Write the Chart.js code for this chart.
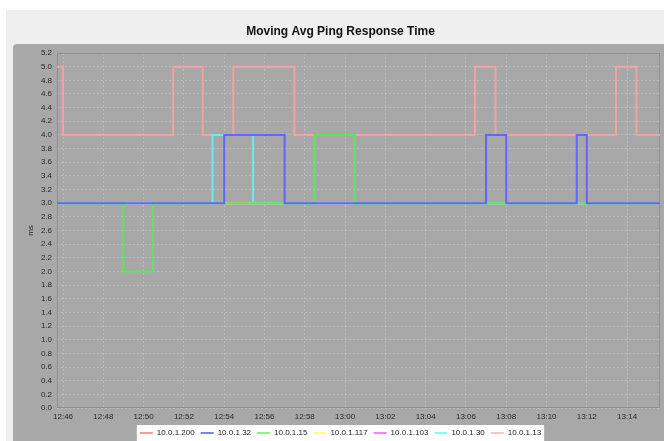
<!DOCTYPE html>
<html>
<head>
<meta charset="utf-8">
<script src="https://cdn.jsdelivr.net/npm/chart.js@4.4.1/dist/chart.umd.min.js"></script>
<style>
  html, body { margin: 0; padding: 0; background: #ffffff; }
  #wrap { width: 664px; height: 441px; }
</style>
</head>
<body>
<div id="wrap"><canvas id="ping" width="664" height="441"></canvas></div>
<script>
// ---- chart data ----
const chartTitle = "Moving Avg Ping Response Time";
const axisTitle = "ms";
const axisStart = "12:45:42";
const axisEnd = "13:15:38";
const timeTicks = ["12:46", "12:48", "12:50", "12:52", "12:54", "12:56", "12:58",
                   "13:00", "13:02", "13:04", "13:06", "13:08", "13:10", "13:12", "13:14"];
const hostNames = ["10.0.1.200", "10.0.1.32", "10.0.1.15", "10.0.1.117",
                   "10.0.1.103", "10.0.1.30", "10.0.1.13"];

// each entry: [time the value starts, moving average in ms]
const host200 = [["12:45:42", 5.0], ["12:46:00", 4.0], ["12:51:28", 5.0], ["12:52:56", 4.0],
                 ["12:54:27", 5.0], ["12:57:29", 4.0], ["13:06:27", 5.0], ["13:07:28", 4.0],
                 ["13:13:27", 5.0], ["13:14:28", 4.0], ["13:15:38", 4.0]];
const host32  = [["12:45:42", 3.0], ["12:54:00", 4.0], ["12:57:00", 3.0], ["13:07:00", 4.0],
                 ["13:08:00", 3.0], ["13:11:30", 4.0], ["13:12:00", 3.0], ["13:15:38", 3.0]];
const host15  = [["12:45:42", 3.0], ["12:49:00", 2.0], ["12:50:28", 3.0], ["12:58:30", 4.0],
                 ["13:00:29", 3.0], ["13:15:38", 3.0]];
const host117 = [["12:45:42", 3.0], ["13:15:38", 3.0]];
const host103 = [["12:45:42", 3.0], ["13:15:38", 3.0]];
const host30  = [["12:45:42", 3.0], ["12:53:25", 4.0], ["12:55:26", 3.0], ["13:15:38", 3.0]];
const host13  = [["12:45:42", 3.0], ["13:15:38", 3.0]];

// ---- helpers ----
const FONT = "'Liberation Sans', Arial, Helvetica, sans-serif";
const BASE_MIN = 12 * 60 + 46;
function toMin(t) {
  const [h, m, s] = t.split(":").map(Number);
  return h * 60 + m + (s || 0) / 60 - BASE_MIN;
}
function series(label, points, lineColor, keyColor, order) {
  return {
    label,
    data: points.map(([t, v]) => ({ x: toMin(t), y: v })),
    borderColor: lineColor,
    backgroundColor: keyColor,
    borderWidth: 2,
    stepped: "before",
    pointRadius: 0,
    pointHoverRadius: 0,
    fill: false,
    order
  };
}

const datasets = [
  series(hostNames[0], host200, "#f2a2a2", "#ff9a9a", 6),
  series(hostNames[1], host32,  "#6464ff", "#7d7dff", 0),
  series(hostNames[2], host15,  "#5fe45f", "#7dff7d", 1),
  series(hostNames[3], host117, "#f0f060", "#ffff7d", 3),
  series(hostNames[4], host103, "#f060f0", "#ff7dff", 4),
  series(hostNames[5], host30,  "#5ff0f0", "#7dffff", 2),
  series(hostNames[6], host13,  "#ffbcbc", "#ffc4c4", 5)
];

// page backdrop, plot panel and the white legend strip
const backdrop = {
  id: "backdrop",
  beforeDraw(chart) {
    const { ctx, width, height } = chart;
    ctx.save();
    ctx.fillStyle = "#ffffff";
    ctx.fillRect(0, 0, width, height);
    ctx.fillStyle = "#efefef";
    ctx.fillRect(6, 10, width - 6, height - 10);
    ctx.fillStyle = "#a8a8a8";
    ctx.beginPath();
    ctx.roundRect(13, 44, width - 13, height - 44, [4, 0, 0, 0]);
    ctx.fill();
    const boxes = chart.legend && chart.legend.legendHitBoxes;
    if (boxes && boxes.length) {
      const first = boxes[0], last = boxes[boxes.length - 1];
      const x0 = first.left - 3;
      const x1 = last.left + last.width + 3;
      const y0 = chart.legend.top + 2;
      ctx.fillStyle = "#ffffff";
      ctx.fillRect(x0, y0, x1 - x0, height - y0);
    }
    ctx.restore();
  },
  beforeDatasetsDraw(chart) {
    const { ctx, chartArea: a } = chart;
    ctx.save();
    ctx.strokeStyle = "#8f8f8f";
    ctx.lineWidth = 1;
    ctx.strokeRect(a.left + 0.5, a.top + 0.5, a.right - a.left - 1, a.bottom - a.top - 1);
    ctx.restore();
  }
};

const gridColor = "rgba(255,255,255,0.22)";

new Chart(document.getElementById("ping"), {
  type: "line",
  data: { datasets },
  plugins: [backdrop],
  options: {
    responsive: false,
    animation: false,
    devicePixelRatio: 1,
    events: [],
    layout: { padding: { left: 17, right: 0, top: 0, bottom: -6 } },
    plugins: {
      title: {
        display: true,
        text: chartTitle,
        color: "#111111",
        font: { family: FONT, size: 12, weight: "bold" },
        padding: { top: 24.3, bottom: 14.3 }
      },
      legend: {
        position: "bottom",
        labels: {
          boxWidth: 13,
          boxHeight: 2,
          padding: 6,
          color: "#222222",
          font: { family: FONT, size: 8 },
          generateLabels(chart) {
            const items = Chart.defaults.plugins.legend.labels.generateLabels(chart);
            items.forEach(it => { it.lineWidth = 0; });
            return items.sort((a, b) => a.datasetIndex - b.datasetIndex);
          }
        }
      },
      tooltip: { enabled: false }
    },
    scales: {
      x: {
        type: "linear",
        min: toMin(axisStart),
        max: toMin(axisEnd),
        afterBuildTicks(scale) {
          scale.ticks = timeTicks.map(t => ({ value: toMin(t) }));
        },
        afterFit(scale) { scale.height = 15; },
        ticks: {
          autoSkip: false,
          maxRotation: 0,
          padding: 4,
          color: "#2a2a2a",
          font: { family: FONT, size: 8 },
          callback: (v, i) => timeTicks[i]
        },
        grid: { color: gridColor, drawTicks: false, lineWidth: 1 },
        border: { display: false, dash: [2, 2] }
      },
      y: {
        min: 0,
        max: 5.2,
        afterFit(scale) { scale.width = 40; },
        ticks: {
          stepSize: 0.2,
          autoSkip: false,
          padding: 5,
          color: "#2a2a2a",
          font: { family: FONT, size: 8 },
          callback: v => Number(v).toFixed(1)
        },
        title: {
          display: true,
          text: axisTitle,
          color: "#2a2a2a",
          font: { family: FONT, size: 8 },
          padding: { top: 9, bottom: 0 }
        },
        grid: { color: gridColor, drawTicks: false, lineWidth: 1 },
        border: { display: false, dash: [2, 2] }
      },
      y2: {
        position: "right",
        display: true,
        afterFit(scale) { scale.width = 4; },
        ticks: { display: false },
        grid: { display: false },
        border: { display: false }
      }
    }
  }
});
</script>
</body>
</html>
